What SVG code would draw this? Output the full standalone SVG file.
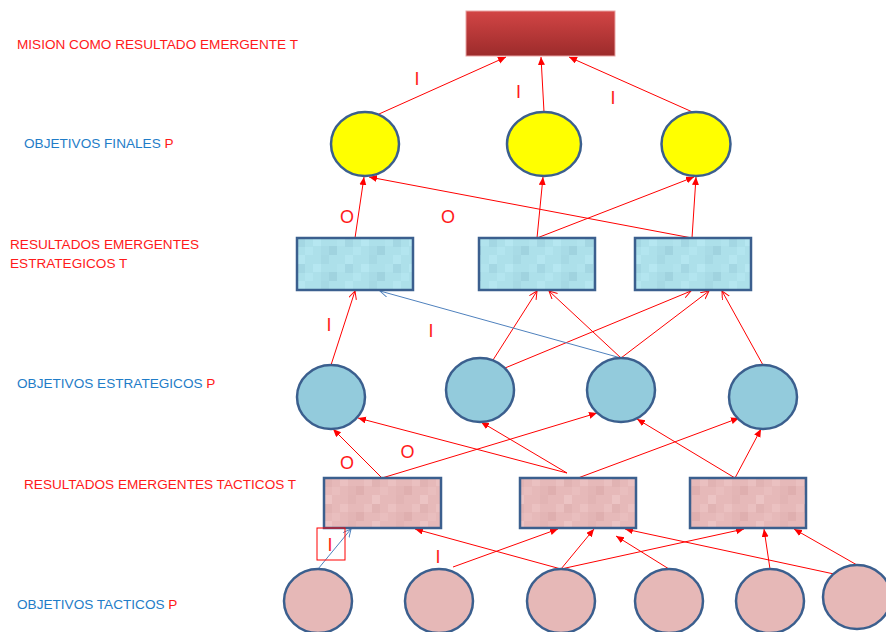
<svg xmlns="http://www.w3.org/2000/svg" width="886" height="632" viewBox="0 0 886 632">
  <defs>
    <linearGradient id="missionFill" x1="0" y1="0" x2="0" y2="1">
      <stop offset="0" stop-color="#d24545"/>
      <stop offset="1" stop-color="#9c2b2b"/>
    </linearGradient>
    <!-- blocky water-like texture for the strategic result boxes -->
    <pattern id="texBlue" patternUnits="userSpaceOnUse" width="48" height="26" x="297" y="238">
      <rect width="48" height="26" fill="#ade0ea"/>
      <rect x="0" y="0" width="8" height="9" fill="#a4d7e3"/>
      <rect x="16" y="0" width="8" height="8" fill="#b6e7f1"/>
      <rect x="32" y="8" width="8" height="9" fill="#a0d3df"/>
      <rect x="8" y="9" width="8" height="8" fill="#b3e5ef"/>
      <rect x="24" y="17" width="8" height="9" fill="#a6d9e4"/>
      <rect x="40" y="0" width="8" height="8" fill="#b1e3ed"/>
      <rect x="0" y="17" width="8" height="9" fill="#b5e6f0"/>
      <rect x="24" y="8" width="8" height="9" fill="#a8dbe6"/>
    </pattern>
    <!-- blocky texture for the tactical result boxes -->
    <pattern id="texPink" patternUnits="userSpaceOnUse" width="48" height="26" x="324" y="478">
      <rect width="48" height="26" fill="#e6b9b9"/>
      <rect x="0" y="0" width="8" height="9" fill="#e1b3b3"/>
      <rect x="16" y="0" width="8" height="8" fill="#ebc1c1"/>
      <rect x="32" y="8" width="8" height="9" fill="#dfafaf"/>
      <rect x="8" y="9" width="8" height="8" fill="#e9bebe"/>
      <rect x="24" y="17" width="8" height="9" fill="#e2b4b4"/>
      <rect x="40" y="0" width="8" height="8" fill="#eac0c0"/>
      <rect x="0" y="17" width="8" height="9" fill="#ecc4c4"/>
      <rect x="24" y="8" width="8" height="9" fill="#e3b5b5"/>
    </pattern>
    <marker id="headFill" markerUnits="userSpaceOnUse" markerWidth="9" markerHeight="8" refX="8" refY="3.5" orient="auto">
      <path d="M0,0 L8,3.5 L0,7 z" fill="#ff0000"/>
    </marker>
    <marker id="headOpen" markerUnits="userSpaceOnUse" markerWidth="10" markerHeight="10" refX="8" refY="4" orient="auto">
      <path d="M0,0 L8,4 L0,8" fill="none" stroke="#ff0000" stroke-width="1"/>
    </marker>
    <marker id="headOpenBlue" markerUnits="userSpaceOnUse" markerWidth="10" markerHeight="10" refX="8" refY="4" orient="auto">
      <path d="M0,0 L8,4 L0,8" fill="none" stroke="#4f81bd" stroke-width="1"/>
    </marker>
  </defs>
  <style>
    .lvl { font-family: "Liberation Sans", Arial, sans-serif; font-size: 13.6px; }
    .red { fill: #ff1a1a; }
    .blue { fill: #1f7dc8; }
    .tag { font-family: "Liberation Sans", Arial, sans-serif; font-size: 18px; fill: #ff1a1a; text-anchor: middle; }
    .node { stroke: #3b5f8e; stroke-width: 2.5; }
    .yellow { fill: #ffff00; }
    .teal { fill: #93cbdc; }
    .rose { fill: #e6b8b7; }
    .c { fill: none; stroke: #ff0000; stroke-width: 1; }
    .cf { marker-end: url(#headFill); }
    .co { marker-end: url(#headOpen); }
    .cb { fill: none; stroke: #4f81bd; stroke-width: 1; marker-end: url(#headOpenBlue); }
  </style>

  <rect width="886" height="632" fill="#ffffff"/>

  <!-- level captions -->
  <g id="captions">
    <text class="lvl red" x="17" y="49">MISION COMO RESULTADO EMERGENTE T</text>
    <text class="lvl" x="24" y="147.5"><tspan class="blue">OBJETIVOS FINALES </tspan><tspan class="red">P</tspan></text>
    <text class="lvl red" x="10" y="249">RESULTADOS EMERGENTES</text>
    <text class="lvl red" x="10" y="267.5">ESTRATEGICOS T</text>
    <text class="lvl" x="17" y="388"><tspan class="blue">OBJETIVOS ESTRATEGICOS </tspan><tspan class="red">P</tspan></text>
    <text class="lvl red" x="24" y="489">RESULTADOS EMERGENTES TACTICOS T</text>
    <text class="lvl" x="17" y="609"><tspan class="blue">OBJETIVOS TACTICOS </tspan><tspan class="red">P</tspan></text>
  </g>

  <!-- connectors -->
  <g id="connectors">
    <!-- final objectives to mission -->
    <line class="c cf" stroke-width="1.3" x1="379" y1="114" x2="506" y2="57"/>
    <line class="c cf" stroke-width="1.3" x1="544" y1="112" x2="541" y2="57"/>
    <line class="c cf" stroke-width="1.3" x1="697" y1="114" x2="569" y2="57"/>
    <!-- strategic results to final objectives -->
    <line class="c cf" x1="355" y1="238" x2="364" y2="177"/>
    <line class="c cf" x1="537" y1="238" x2="543" y2="177"/>
    <line class="c cf" x1="537" y1="238" x2="694" y2="177"/>
    <line class="c cf" x1="692" y1="238" x2="696" y2="177"/>
    <line class="c cf" x1="692" y1="238" x2="369" y2="177"/>
    <!-- strategic objectives to strategic results -->
    <line class="c co" x1="331" y1="365" x2="355" y2="291"/>
    <line class="c co" x1="493" y1="360" x2="537" y2="291"/>
    <line class="c co" x1="505" y1="368" x2="691" y2="291"/>
    <line class="c co" x1="621" y1="358" x2="549" y2="291"/>
    <line class="c co" x1="621" y1="358" x2="709" y2="291"/>
    <line class="c co" x1="763" y1="365" x2="722" y2="291"/>
    <line class="cb" x1="621" y1="358" x2="380" y2="291"/>
    <!-- tactical results to strategic objectives -->
    <line class="c cf" x1="382" y1="478" x2="333" y2="429"/>
    <line class="c cf" x1="382" y1="478" x2="597" y2="413"/>
    <line class="c cf" x1="567" y1="473" x2="358" y2="418"/>
    <line class="c cf" x1="567" y1="473" x2="481" y2="422"/>
    <line class="c cf" x1="578" y1="478" x2="739" y2="418"/>
    <line class="c cf" x1="735" y1="478" x2="637" y2="419"/>
    <line class="c cf" x1="735" y1="478" x2="761" y2="429"/>
    <!-- tactical objectives to tactical results -->
    <line class="cb" x1="318" y1="569" x2="351" y2="529"/>
    <line class="c cf" x1="453" y1="567" x2="558" y2="529"/>
    <line class="c cf" x1="561" y1="569" x2="415" y2="529"/>
    <line class="c cf" x1="561" y1="569" x2="594" y2="529"/>
    <line class="c cf" x1="561" y1="569" x2="744" y2="529"/>
    <line class="c cf" x1="669" y1="569" x2="616" y2="536"/>
    <line class="c cf" x1="770" y1="569" x2="764" y2="529"/>
    <line class="c cf" x1="857" y1="565" x2="794" y2="529"/>
    <line class="c cf" x1="834" y1="574" x2="625" y2="529"/>
  </g>

  <!-- mission -->
  <g id="mission">
    <rect x="466" y="11" width="149" height="45" fill="url(#missionFill)" stroke="#e9a3a3" stroke-width="1"/>
  </g>

  <!-- final objectives -->
  <g id="final-1"><ellipse class="node yellow" cx="365" cy="144" rx="34" ry="32"/></g>
  <g id="final-2"><ellipse class="node yellow" cx="544" cy="144" rx="37" ry="32"/></g>
  <g id="final-3"><ellipse class="node yellow" cx="696" cy="144" rx="34.5" ry="32"/></g>

  <!-- strategic results -->
  <g id="strat-result-1"><rect class="node" x="297" y="238" width="116" height="52" fill="url(#texBlue)"/></g>
  <g id="strat-result-2"><rect class="node" x="479" y="238" width="116" height="52" fill="url(#texBlue)"/></g>
  <g id="strat-result-3"><rect class="node" x="635" y="238" width="116" height="52" fill="url(#texBlue)"/></g>

  <!-- strategic objectives -->
  <g id="strat-obj-1"><ellipse class="node teal" cx="331" cy="397" rx="34" ry="32"/></g>
  <g id="strat-obj-2"><ellipse class="node teal" cx="480" cy="390" rx="34" ry="32"/></g>
  <g id="strat-obj-3"><ellipse class="node teal" cx="621" cy="390" rx="34" ry="32"/></g>
  <g id="strat-obj-4"><ellipse class="node teal" cx="763" cy="397" rx="34" ry="32"/></g>

  <!-- tactical results -->
  <g id="tact-result-1"><rect class="node" x="324" y="478" width="117" height="50" fill="url(#texPink)"/></g>
  <g id="tact-result-2"><rect class="node" x="520" y="478" width="116" height="50" fill="url(#texPink)"/></g>
  <g id="tact-result-3"><rect class="node" x="690" y="478" width="116" height="50" fill="url(#texPink)"/></g>

  <!-- tactical objectives -->
  <g id="tact-obj-1"><ellipse class="node rose" cx="318" cy="601" rx="34" ry="32"/></g>
  <g id="tact-obj-2"><ellipse class="node rose" cx="439" cy="601" rx="34" ry="32"/></g>
  <g id="tact-obj-3"><ellipse class="node rose" cx="561" cy="601" rx="34" ry="32"/></g>
  <g id="tact-obj-4"><ellipse class="node rose" cx="669" cy="601" rx="34" ry="32"/></g>
  <g id="tact-obj-5"><ellipse class="node rose" cx="770" cy="601" rx="34" ry="32"/></g>
  <g id="tact-obj-6"><ellipse class="node rose" cx="857" cy="597" rx="34" ry="32"/></g>

  <!-- link tags -->
  <g id="tags">
    <text class="tag" x="417" y="85">I</text>
    <text class="tag" x="518.5" y="97.5">I</text>
    <text class="tag" x="613" y="104">I</text>
    <text class="tag" x="347" y="223">O</text>
    <text class="tag" x="448" y="223">O</text>
    <text class="tag" x="329" y="331">I</text>
    <text class="tag" x="431" y="337">I</text>
    <text class="tag" x="347" y="468.5">O</text>
    <text class="tag" x="407.5" y="457.5">O</text>
    <rect x="317" y="528" width="28" height="32" fill="none" stroke="#ff0000" stroke-width="1"/>
    <text class="tag" x="330" y="550.5">I</text>
    <text class="tag" x="438" y="563">I</text>
  </g>
</svg>
